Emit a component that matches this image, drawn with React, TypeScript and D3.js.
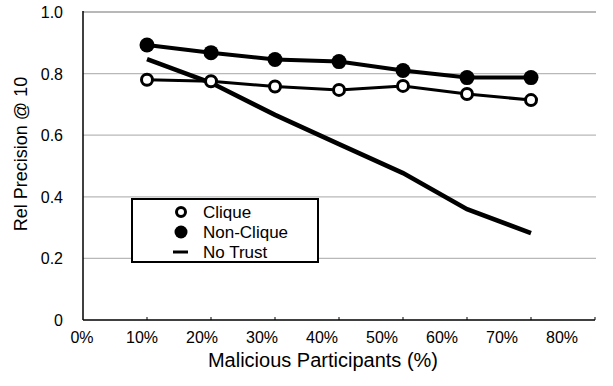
import React, { useEffect, useRef } from 'react';
import * as d3 from 'd3';

// malicious share (%) for each point
const malicious = [10, 20, 30, 40, 50, 60, 70];
const cliqueVals = [0.78, 0.775, 0.758, 0.747, 0.76, 0.734, 0.714];
const nonCliqueVals = [0.893, 0.868, 0.846, 0.839, 0.81, 0.787, 0.787];
const noTrustVals = [0.847, 0.77, 0.666, 0.571, 0.477, 0.36, 0.282];

const xTicks = [0, 10, 20, 30, 40, 50, 60, 70, 80];
const yTicks = [0, 0.2, 0.4, 0.6, 0.8, 1.0];
const yGrid = [0.2, 0.4, 0.6, 0.8, 1.0];

const legendItems = ['Clique', 'Non-Clique', 'No Trust'];

const FONT = '"Liberation Sans", Arial, Helvetica, sans-serif';

export default function App() {
  const svgRef = useRef<SVGSVGElement>(null);

  useEffect(() => {
    if (!svgRef.current) return;
    const svg = d3.select(svgRef.current);
    svg.selectAll('*').remove();

    const x = d3.scaleLinear().domain([0, 80]).range([83, 595]);
    // tick labels are spaced a bit tighter than the ticks in the original
    const xLab = d3.scaleLinear().domain([0, 80]).range([82, 562]);
    const y = d3.scaleLinear().domain([0, 1]).range([320, 12]);

    svg.append('rect').attr('width', 613).attr('height', 386).attr('fill', 'white');

    // gridlines
    svg.append('g')
      .selectAll('line')
      .data(yGrid)
      .join('line')
      .attr('x1', x(0))
      .attr('x2', x(80) + 1)
      .attr('y1', d => y(d))
      .attr('y2', d => y(d))
      .attr('stroke', '#b8b8b8')
      .attr('stroke-width', d => (d === 1 ? 2 : 1.3));

    // axes lines
    svg.append('line')
      .attr('x1', x(0)).attr('x2', x(0))
      .attr('y1', y(1) - 1).attr('y2', y(0))
      .attr('stroke', 'black').attr('stroke-width', 1.5);
    svg.append('line')
      .attr('x1', x(0)).attr('x2', x(80))
      .attr('y1', y(0)).attr('y2', y(0))
      .attr('stroke', 'black').attr('stroke-width', 1.5);

    // x ticks (pointing up)
    svg.append('g')
      .selectAll('line')
      .data(xTicks.slice(1))
      .join('line')
      .attr('x1', d => x(d)).attr('x2', d => x(d))
      .attr('y1', y(0)).attr('y2', y(0) - 3)
      .attr('stroke', 'black').attr('stroke-width', 1);

    // x tick labels
    svg.append('g')
      .selectAll('text')
      .data(xTicks)
      .join('text')
      .attr('x', d => xLab(d))
      .attr('y', 343)
      .attr('text-anchor', 'middle')
      .style('font-family', FONT)
      .style('font-size', '16px')
      .text(d => `${d}%`);

    // y tick labels
    svg.append('g')
      .selectAll('text')
      .data(yTicks)
      .join('text')
      .attr('x', 63)
      .attr('y', d => y(d) + 6)
      .attr('text-anchor', 'end')
      .style('font-family', FONT)
      .style('font-size', '16px')
      .text(d => (d === 0 ? '0' : d.toFixed(1)));

    // axis titles
    svg.append('text')
      .attr('x', 323)
      .attr('y', 367)
      .attr('text-anchor', 'middle')
      .style('font-family', FONT)
      .style('font-size', '20px')
      .text('Malicious Participants (%)');

    svg.append('text')
      .attr('transform', 'translate(27,154) rotate(-90)')
      .attr('text-anchor', 'middle')
      .style('font-family', FONT)
      .style('font-size', '18px')
      .text('Rel Precision @ 10');

    const line = d3.line<number>()
      .x((_, i) => x(malicious[i]))
      .y(d => y(d));

    // No Trust
    svg.append('path')
      .datum(noTrustVals)
      .attr('d', line)
      .attr('fill', 'none')
      .attr('stroke', 'black')
      .attr('stroke-width', 4.5);

    // Clique
    svg.append('path')
      .datum(cliqueVals)
      .attr('d', line)
      .attr('fill', 'none')
      .attr('stroke', 'black')
      .attr('stroke-width', 3);
    svg.append('g')
      .selectAll('circle')
      .data(cliqueVals)
      .join('circle')
      .attr('cx', (_, i) => x(malicious[i]))
      .attr('cy', d => y(d))
      .attr('r', 5.5)
      .attr('fill', 'white')
      .attr('stroke', 'black')
      .attr('stroke-width', 3);

    // Non-Clique
    svg.append('path')
      .datum(nonCliqueVals)
      .attr('d', line)
      .attr('fill', 'none')
      .attr('stroke', 'black')
      .attr('stroke-width', 4);
    svg.append('g')
      .selectAll('circle')
      .data(nonCliqueVals)
      .join('circle')
      .attr('cx', (_, i) => x(malicious[i]))
      .attr('cy', d => y(d))
      .attr('r', 7.5)
      .attr('fill', 'black');

    // legend
    const legend = svg.append('g').attr('transform', 'translate(132,199)');
    legend.append('rect')
      .attr('width', 186)
      .attr('height', 63)
      .attr('fill', 'white')
      .attr('stroke', 'black')
      .attr('stroke-width', 2);

    legendItems.forEach((label, i) => {
      const cy = 13 + i * 20;
      if (i === 0) {
        legend.append('circle')
          .attr('cx', 49).attr('cy', cy).attr('r', 4.5)
          .attr('fill', 'white').attr('stroke', 'black').attr('stroke-width', 3);
      } else if (i === 1) {
        legend.append('circle')
          .attr('cx', 49).attr('cy', cy).attr('r', 6.5)
          .attr('fill', 'black');
      } else {
        legend.append('line')
          .attr('x1', 41).attr('x2', 56)
          .attr('y1', cy).attr('y2', cy)
          .attr('stroke', 'black').attr('stroke-width', 3);
      }
      legend.append('text')
        .attr('x', 71)
        .attr('y', cy + 6)
        .style('font-family', FONT)
        .style('font-size', '17px')
        .text(label);
    });
  }, []);

  return (
    <svg
      ref={svgRef}
      width={613}
      height={386}
      style={{ position: 'absolute', left: 0, top: 0, display: 'block' }}
    />
  );
}
